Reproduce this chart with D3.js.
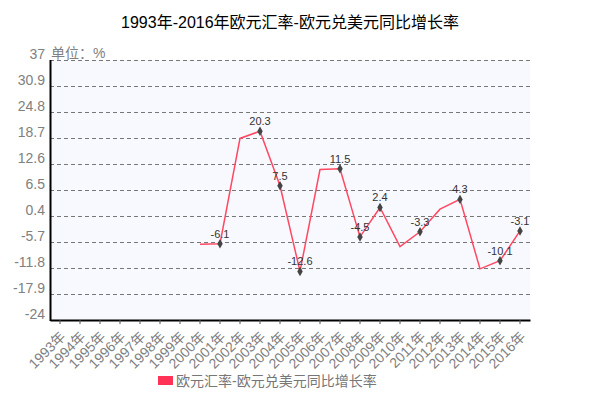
<!DOCTYPE html>
<html>
<head>
<meta charset="utf-8">
<script src="https://cdn.jsdelivr.net/npm/d3@7"></script>
<style>
  body { margin: 0; background: #fff; }
  text { font-family: "Liberation Sans", Arial, "Noto Sans CJK SC", sans-serif; }
</style>
</head>
<body>
<div id="my_dataviz"></div>
<script>

// data
var years = ["1993年","1994年","1995年","1996年","1997年","1998年","1999年","2000年","2001年","2002年","2003年","2004年",
             "2005年","2006年","2007年","2008年","2009年","2010年","2011年","2012年","2013年","2014年","2015年","2016年"];
var values = [null, null, null, null, null, null, null, -6.2, -6.1, 18.6, 20.3, 7.5,
              -12.6, 11.3, 11.5, -4.5, 2.4, -6.8, -3.3, 2.0, 4.3, -12.0, -10.1, -3.1];
// years that carry a marker and a value label
var labelled = ["2001年","2003年","2004年","2005年","2007年","2008年","2009年","2011年","2013年","2015年","2016年"];
var yTicks = [37, 30.9, 24.8, 18.7, 12.6, 6.5, 0.4, -5.7, -11.8, -17.9, -24];
var title = "1993年-2016年欧元汇率-欧元兑美元同比增长率";
var seriesName = "欧元汇率-欧元兑美元同比增长率";
var unit = "单位：%";

var data = years.map(function(d, i) { return {year: d, value: values[i]}; });

// set the dimensions and margins of the graph
var margin = {top: 60, right: 80, bottom: 86, left: 50},
    width = 610 - margin.left - margin.right,
    height = 406 - margin.top - margin.bottom;

var lineColor = "#ff4862";

var root = d3.select("#my_dataviz")
  .append("svg")
    .attr("width", 610)
    .attr("height", 406);

// title
root.append("text")
  .attr("x", 290)
  .attr("y", 28)
  .attr("text-anchor", "middle")
  .attr("font-size", 16)
  .attr("fill", "#000")
  .text(title);

var svg = root.append("g")
    .attr("transform", "translate(" + margin.left + "," + margin.top + ")");

var x = d3.scaleBand()
  .domain(years)
  .range([0, width]);

var y = d3.scaleLinear()
  .domain([-24, 37])
  .range([height, 0]);

// plot background
svg.append("rect")
  .attr("width", width)
  .attr("height", height)
  .attr("fill", "#f8f9ff");

// dashed grid lines
svg.selectAll(".grid")
  .data(yTicks.slice(0, yTicks.length - 1))
  .enter()
  .append("line")
    .attr("x1", 0)
    .attr("x2", width)
    .attr("y1", function(d) { return Math.round(y(d)) + 0.5 })
    .attr("y2", function(d) { return Math.round(y(d)) + 0.5 })
    .attr("stroke", "#777")
    .attr("stroke-dasharray", "4,3");

// Y labels, baseline sits on the grid line
svg.selectAll(".ylab")
  .data(yTicks)
  .enter()
  .append("text")
    .attr("x", -5)
    .attr("y", function(d) { return y(d) - 1 })
    .attr("text-anchor", "end")
    .attr("font-size", 14)
    .attr("fill", "#808080")
    .text(function(d) { return d });

svg.append("text")
  .attr("x", 1)
  .attr("y", -2)
  .attr("font-size", 14)
  .attr("fill", "#808080")
  .text(unit);

// X axis
var xAxis = svg.append("g")
  .attr("transform", "translate(0," + height + ")")
  .call(d3.axisBottom(x).tickSize(4).tickSizeOuter(0));
xAxis.select(".domain").attr("stroke", "#000").attr("stroke-width", 2);
xAxis.selectAll(".tick line").attr("stroke", "#555");
xAxis.selectAll(".tick text")
  .attr("font-size", 14)
  .attr("fill", "#808080")
  .attr("text-anchor", "end")
  .attr("x", 0)
  .attr("y", 0)
  .attr("dy", "0.35em")
  .attr("transform", "translate(3,14) rotate(-45)");

// Y axis line
svg.append("line")
  .attr("x1", 0.5).attr("x2", 0.5)
  .attr("y1", 0).attr("y2", height + 1)
  .attr("stroke", "#000")
  .attr("stroke-width", 2);

// Add the line
svg.append("path")
  .datum(data)
  .attr("fill", "none")
  .attr("stroke", lineColor)
  .attr("stroke-width", 1.5)
  .attr("d", d3.line()
    .defined(function(d) { return d.value != null })
    .x(function(d) { return x(d.year) + x.bandwidth() / 2 })
    .y(function(d) { return y(d.value) })
    );

var marked = data.filter(function(d) { return labelled.indexOf(d.year) >= 0 });

// markers
svg.selectAll(".dot")
  .data(marked)
  .enter()
  .append("path")
    .attr("d", d3.symbol().type(d3.symbolDiamond).size(26))
    .attr("transform", function(d) { return "translate(" + (x(d.year) + x.bandwidth() / 2) + "," + y(d.value) + ")" })
    .attr("fill", "#444");

// value labels
svg.selectAll(".vlab")
  .data(marked)
  .enter()
  .append("text")
    .attr("x", function(d) { return x(d.year) + x.bandwidth() / 2 })
    .attr("y", function(d) { return y(d.value) - 6 })
    .attr("text-anchor", "middle")
    .attr("font-size", 11)
    .attr("fill", "#333")
    .text(function(d) { return d.value });

// legend
root.append("rect")
  .attr("x", 158)
  .attr("y", 376)
  .attr("width", 15)
  .attr("height", 9)
  .attr("fill", "#ff3355");

root.append("text")
  .attr("x", 176)
  .attr("y", 386)
  .attr("font-size", 14)
  .attr("fill", "#777")
  .text(seriesName);

</script>
</body>
</html>
